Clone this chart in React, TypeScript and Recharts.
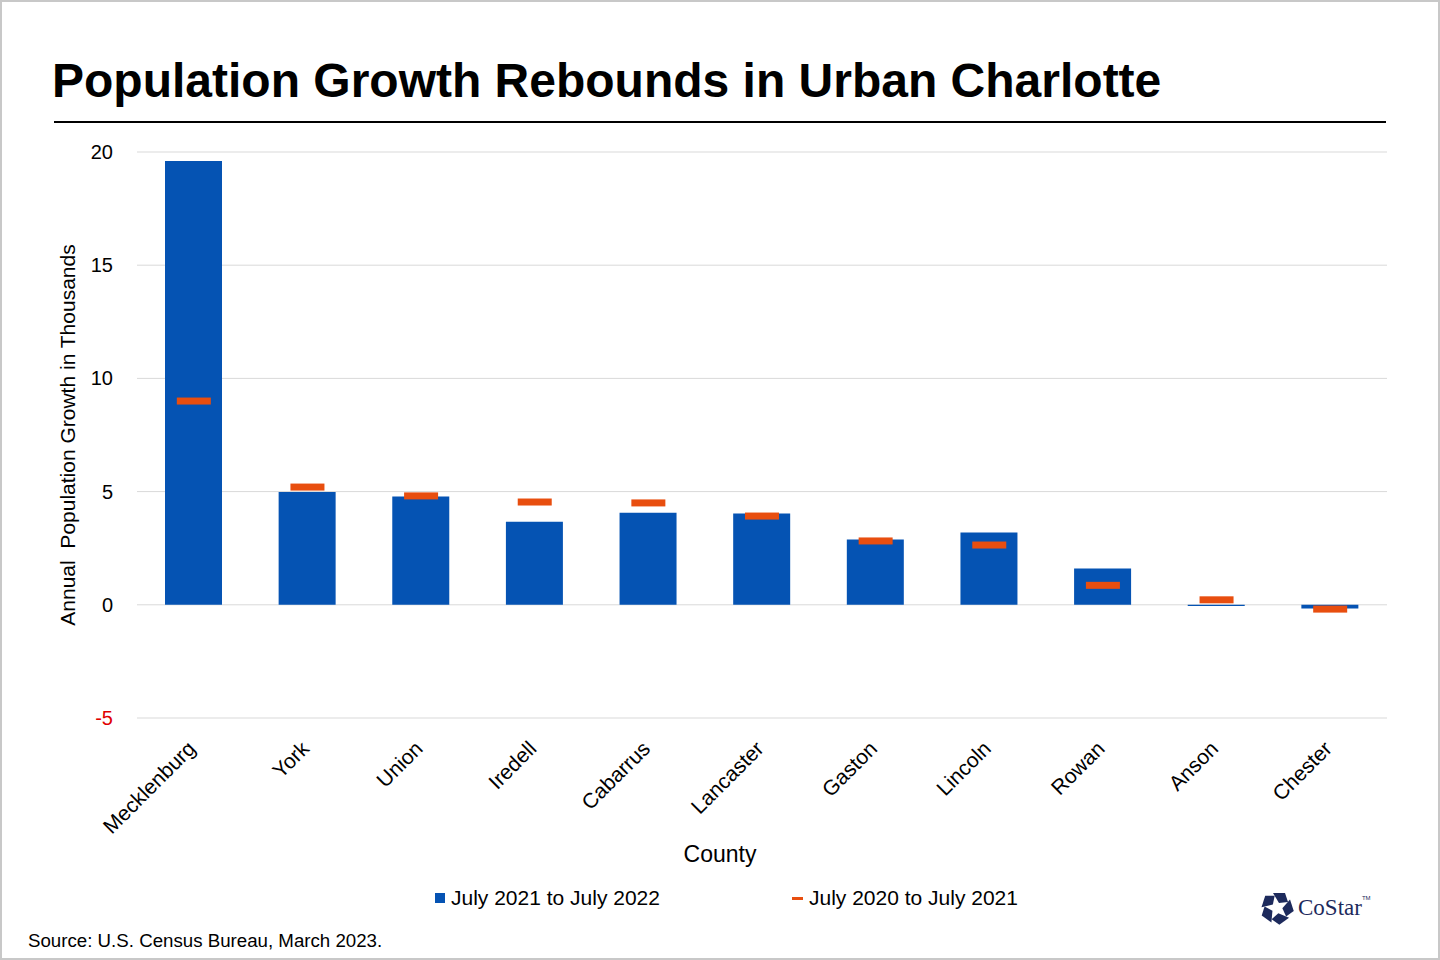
import { Bar, CartesianGrid, ComposedChart, Label, Line, XAxis, YAxis } from "recharts";

const counties = [
  "Mecklenburg",
  "York",
  "Union",
  "Iredell",
  "Cabarrus",
  "Lancaster",
  "Gaston",
  "Lincoln",
  "Rowan",
  "Anson",
  "Chester",
];
const growth2022 = [19.6, 4.98, 4.78, 3.67, 4.07, 4.03, 2.88, 3.19, 1.6, -0.05, -0.16];
const growth2021 = [9.0, 5.2, 4.81, 4.54, 4.5, 3.92, 2.82, 2.64, 0.86, 0.22, -0.19];
const yTicks = [-5, 0, 5, 10, 15, 20];

const FONT = "'Liberation Sans', Arial, sans-serif";
const BLUE = "#0553B3";
const ORANGE = "#E84E0F";

const data = counties.map((county, i) => ({
  county,
  current: growth2022[i],
  prior: growth2021[i],
}));

function YTick({ x, y, payload }: any) {
  const v = payload.value as number;
  return (
    <text
      x={x - 16}
      y={y}
      dy={7}
      textAnchor="end"
      fontSize={20}
      fontFamily={FONT}
      fill={v < 0 ? "#E00000" : "#000"}
    >
      {v}
    </text>
  );
}

function XTick({ x, y, payload }: any) {
  const tx = x + 3;
  const ty = y + 24;
  return (
    <text
      x={tx}
      y={ty}
      textAnchor="end"
      fontSize={21}
      fontFamily={FONT}
      fill="#000"
      transform={`rotate(-45 ${tx} ${ty})`}
    >
      {payload.value}
    </text>
  );
}

function PriorMarker({ cx, cy }: any) {
  if (cx == null || cy == null) return null;
  return <rect x={cx - 17} y={cy - 3.5} width={34} height={7} fill={ORANGE} />;
}

function CoStarLogo() {
  const pieces = [0, 1, 2, 3, 4].map((i) => (
    <polygon
      key={i}
      points="-4,-15 8,-15 11,-6 2,-5"
      fill="#1D2A5C"
      transform={`rotate(${i * 72})`}
    />
  ));
  return (
    <div
      style={{
        position: "absolute",
        left: 1258,
        top: 889,
        display: "flex",
        alignItems: "center",
        gap: 4,
      }}
    >
      <svg width={34} height={34} viewBox="-17 -17 34 34">
        {pieces}
      </svg>
      <span style={{ fontFamily: "'Liberation Serif', serif", fontSize: 23, color: "#1D2A5C" }}>
        CoStar
        <sup style={{ fontSize: 6, verticalAlign: "top", fontFamily: FONT }}>TM</sup>
      </span>
    </div>
  );
}

export default function App() {
  return (
    <div
      style={{
        position: "fixed",
        left: 0,
        top: 0,
        width: 1440,
        height: 960,
        boxSizing: "border-box",
        border: "2px solid #C8C8C8",
        background: "#fff",
        fontFamily: FONT,
        overflow: "hidden",
      }}
    >
      <div
        style={{
          position: "absolute",
          left: 50,
          top: 51,
          fontSize: 48,
          fontWeight: 700,
          color: "#000",
          whiteSpace: "nowrap",
        }}
      >
        Population Growth Rebounds in Urban Charlotte
      </div>
      <div
        style={{
          position: "absolute",
          left: 52,
          top: 119,
          width: 1332,
          height: 2,
          background: "#000",
        }}
      />

      <div style={{ position: "absolute", left: -2, top: -2 }}>
        <ComposedChart
          width={1440}
          height={960}
          data={data}
          margin={{ top: 152, right: 53, bottom: 112, left: 0 }}
        >
          <CartesianGrid vertical={false} stroke="#D9D9D9" />
          <XAxis
            dataKey="county"
            axisLine={false}
            tickLine={false}
            interval={0}
            height={130}
            tick={<XTick />}
          >
            <Label
              content={() => (
                <text
                  x={720}
                  y={862}
                  textAnchor="middle"
                  fontSize={23}
                  fontFamily={FONT}
                  fill="#000"
                >
                  County
                </text>
              )}
            />
          </XAxis>
          <YAxis
            domain={[-5, 20]}
            ticks={yTicks}
            axisLine={false}
            tickLine={false}
            width={137}
            tick={<YTick />}
          >
            <Label
              content={({ viewBox }: any) => {
                const cy = viewBox.y + viewBox.height / 2;
                return (
                  <text
                    x={75}
                    y={cy}
                    textAnchor="middle"
                    fontSize={21}
                    fontFamily={FONT}
                    fill="#000"
                    transform={`rotate(-90 75 ${cy})`}
                    style={{ whiteSpace: "pre" }}
                  >
                    Annual  Population Growth in Thousands
                  </text>
                );
              }}
            />
          </YAxis>
          <Bar dataKey="current" fill={BLUE} barSize={57} isAnimationActive={false} />
          <Line
            dataKey="prior"
            stroke="none"
            dot={<PriorMarker />}
            activeDot={false}
            isAnimationActive={false}
          />
        </ComposedChart>
      </div>

      <div
        style={{
          position: "absolute",
          top: 884,
          left: 433,
          display: "flex",
          alignItems: "center",
          fontSize: 21,
          color: "#000",
          whiteSpace: "nowrap",
        }}
      >
        <span style={{ display: "inline-block", width: 10, height: 10, background: BLUE, marginRight: 6 }} />
        <span>July 2021 to July 2022</span>
        <span
          style={{
            display: "inline-block",
            width: 11,
            height: 3,
            background: ORANGE,
            marginLeft: 132,
            marginRight: 6,
          }}
        />
        <span>July 2020 to July 2021</span>
      </div>

      <div
        style={{
          position: "absolute",
          left: 26,
          top: 928,
          fontSize: 18.7,
          color: "#000",
          whiteSpace: "nowrap",
        }}
      >
        Source: U.S. Census Bureau, March 2023.
      </div>

      <CoStarLogo />
    </div>
  );
}
